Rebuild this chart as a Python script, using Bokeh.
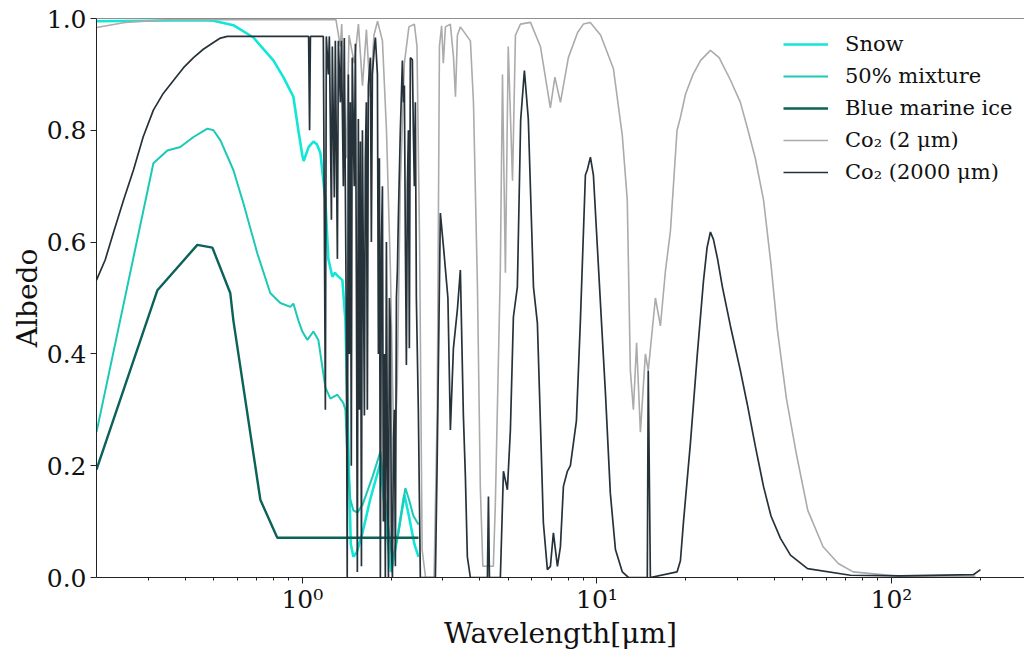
from bokeh.plotting import figure
from bokeh.models import FixedTicker, PrintfTickFormatter, Legend, LegendItem, Span
from bokeh.embed import file_html
from bokeh.resources import INLINE

# ---------------- data ----------------
snow_x = [0.2, 0.3, 0.45, 0.499, 0.583, 0.682, 0.797, 0.862, 0.932, 0.969, 1.0, 1.01, 1.05, 1.09, 1.12,
          1.151, 1.197, 1.225, 1.264, 1.29, 1.315, 1.367, 1.40, 1.43, 1.46, 1.49, 1.53, 1.60, 1.70, 1.84,
          1.93, 2.0, 2.1, 2.22, 2.3, 2.4, 2.48]
snow_y = [0.995, 0.996, 0.997, 0.996, 0.988, 0.966, 0.925, 0.895, 0.86, 0.80, 0.755, 0.745, 0.77, 0.78, 0.775,
          0.76, 0.675, 0.57, 0.538, 0.545, 0.54, 0.532, 0.46, 0.25, 0.06, 0.037, 0.045, 0.08, 0.14, 0.205,
          0.09, 0.01, 0.07, 0.148, 0.11, 0.06, 0.037]

mix_x = [0.2, 0.312, 0.348, 0.385, 0.427, 0.476, 0.499, 0.527, 0.583, 0.631, 0.703, 0.778, 0.842, 0.91, 0.932,
         0.969, 1.0, 1.04, 1.09, 1.133, 1.197, 1.245, 1.315, 1.378, 1.40, 1.42, 1.455, 1.49, 1.537, 1.60,
         1.73, 1.84, 1.958, 2.02, 2.118, 2.237, 2.30, 2.383, 2.48]
mix_y = [0.26, 0.741, 0.764, 0.77, 0.788, 0.803, 0.80, 0.782, 0.729, 0.669, 0.58, 0.509, 0.491, 0.484, 0.49,
         0.46, 0.44, 0.425, 0.44, 0.425, 0.34, 0.32, 0.327, 0.312, 0.30, 0.22, 0.14, 0.12, 0.116, 0.13,
         0.18, 0.225, 0.09, 0.03, 0.08, 0.16, 0.14, 0.11, 0.095]

marine_x = [0.2, 0.322, 0.44, 0.495, 0.569, 0.583, 0.72, 0.822, 2.48]
marine_y = [0.193, 0.514, 0.595, 0.59, 0.509, 0.46, 0.139, 0.071, 0.071]

# CO2 ice, 2 um grains: (wavelength, albedo)
co2_2um = [
    (0.2, 0.984), (0.25, 0.993), (0.35, 0.998), (1.3, 0.998), (1.346, 0.95), (1.36, 0.99), (1.41, 0.75),
    (1.44, 0.97), (1.50, 0.92), (1.55, 0.99), (1.60, 0.88), (1.65, 0.98), (1.70, 0.86), (1.75, 0.97),
    (1.80, 0.995), (1.87, 0.96), (1.93, 0.80), (1.99, 0.55), (2.05, 0.20), (2.10, 0.35), (2.15, 0.70),
    (2.22, 0.92), (2.30, 0.985), (2.40, 0.99), (2.45, 0.95), (2.50, 0.60), (2.55, 0.05), (2.62, 0.0),
    (2.80, 0.0), (2.87, 0.30), (2.92, 0.95), (2.97, 0.987), (3.01, 0.92), (3.06, 0.985), (3.18, 0.99),
    (3.26, 0.93), (3.31, 0.86), (3.36, 0.97), (3.44, 0.985), (3.72, 0.96), (3.81, 0.85), (3.93, 0.52),
    (4.02, 0.16), (4.10, 0.02), (4.45, 0.02), (4.52, 0.13), (4.70, 0.55), (4.78, 0.90), (4.89, 0.545),
    (5.0, 0.95), (5.17, 0.71), (5.29, 0.97), (5.5, 0.99), (5.95, 0.993), (6.43, 0.95), (6.95, 0.84),
    (7.2, 0.895), (7.52, 0.85), (8.0, 0.93), (8.6, 0.975), (9.0, 0.99), (9.5, 0.993), (10.3, 0.97),
    (11.38, 0.91), (12.2, 0.79), (12.68, 0.675), (12.99, 0.37), (13.3, 0.30), (13.64, 0.42),
    (14.05, 0.26), (14.61, 0.40), (14.94, 0.37), (15.8, 0.50), (16.43, 0.45), (17.1, 0.55),
    (17.77, 0.62), (18.71, 0.80), (19.21, 0.823), (20.0, 0.865), (21.2, 0.90), (22.5, 0.925),
    (24.29, 0.943), (26.0, 0.93), (28.4, 0.89), (30.7, 0.85), (32.4, 0.805), (34.5, 0.75),
    (36.8, 0.675), (39.0, 0.56), (41.0, 0.443), (44.0, 0.32), (47.6, 0.22), (52.0, 0.12),
    (58.6, 0.055), (66.0, 0.025), (74.1, 0.01), (107.0, 0.002), (192.9, 0.002),
]

# CO2 ice, 2000 um grains: (wavelength, albedo)
co2_2000um = [
    (0.2, 0.532), (0.214, 0.568), (0.228, 0.616), (0.247, 0.675), (0.267, 0.729), (0.288, 0.788),
    (0.312, 0.836), (0.337, 0.866), (0.365, 0.889), (0.395, 0.912), (0.427, 0.930), (0.461, 0.945),
    (0.499, 0.957), (0.527, 0.965), (0.556, 0.968), (1.05, 0.968), (1.058, 0.80), (1.065, 0.968),
    (1.178, 0.968), (1.197, 0.30), (1.206, 0.968), (1.225, 0.90), (1.235, 0.968), (1.255, 0.64),
    (1.264, 0.95), (1.284, 0.68), (1.294, 0.96), (1.315, 0.57), (1.325, 0.96), (1.346, 0.85),
    (1.357, 0.96), (1.378, 0.70), (1.388, 0.965), (1.41, 0.45), (1.42, 0.0), (1.433, 0.90),
    (1.444, 0.40), (1.455, 0.85), (1.466, 0.20), (1.477, 0.93), (1.50, 0.70), (1.514, 0.955),
    (1.526, 0.50), (1.537, 0.01), (1.549, 0.82), (1.562, 0.30), (1.574, 0.78), (1.587, 0.02),
    (1.599, 0.80), (1.624, 0.29), (1.636, 0.75), (1.649, 0.85), (1.662, 0.30), (1.675, 0.88),
    (1.702, 0.93), (1.715, 0.60), (1.729, 0.90), (1.756, 0.95), (1.77, 0.966), (1.798, 0.90),
    (1.812, 0.40), (1.826, 0.75), (1.84, 0.0), (1.855, 0.60), (1.87, 0.70), (1.884, 0.10),
    (1.899, 0.40), (1.913, 0.0), (1.929, 0.60), (1.944, 0.20), (1.96, 0.0), (1.975, 0.50),
    (1.99, 0.45), (2.006, 0.05), (2.022, 0.0), (2.038, 0.25), (2.054, 0.30), (2.069, 0.02),
    (2.086, 0.50), (2.102, 0.55), (2.119, 0.65), (2.151, 0.80), (2.186, 0.925), (2.203, 0.85),
    (2.22, 0.88), (2.237, 0.60), (2.255, 0.38), (2.273, 0.70), (2.291, 0.80), (2.308, 0.41),
    (2.326, 0.93), (2.363, 0.926), (2.381, 0.80), (2.40, 0.70), (2.419, 0.85), (2.438, 0.50),
    (2.476, 0.30), (2.515, 0.0), (2.829, 0.0), (2.867, 0.20), (2.941, 0.652), (3.02, 0.586),
    (3.12, 0.50), (3.181, 0.264), (3.257, 0.41), (3.361, 0.48), (3.439, 0.55), (3.521, 0.29),
    (3.577, 0.18), (3.632, 0.037), (3.719, 0.0), (4.249, 0.0), (4.283, 0.145), (4.316, 0.0),
    (4.702, 0.0), (4.816, 0.19), (4.967, 0.157), (5.085, 0.264), (5.206, 0.466), (5.37, 0.52),
    (5.51, 0.818), (5.673, 0.907), (5.85, 0.82), (6.09, 0.52), (6.28, 0.455), (6.43, 0.277),
    (6.58, 0.098), (6.79, 0.014), (6.952, 0.02), (7.117, 0.08), (7.344, 0.02), (7.518, 0.055),
    (7.697, 0.163), (7.938, 0.19), (8.128, 0.20), (8.52, 0.28), (8.79, 0.46), (9.14, 0.72),
    (9.285, 0.73), (9.505, 0.752), (9.73, 0.72), (10.4, 0.443), (10.69, 0.33), (11.11, 0.15),
    (11.56, 0.05), (12.2, 0.01), (12.8, 0.0), (14.83, 0.0), (14.94, 0.37), (15.19, 0.0),
    (18.71, 0.01), (19.21, 0.03), (19.68, 0.10), (20.77, 0.24), (21.93, 0.40), (23.0, 0.53),
    (23.66, 0.59), (24.29, 0.618), (24.87, 0.605), (25.68, 0.57), (26.67, 0.52), (28.4, 0.45),
    (30.7, 0.37), (32.4, 0.31), (34.5, 0.235), (36.78, 0.163), (39.0, 0.11), (42.0, 0.07),
    (45.41, 0.04), (51.9, 0.016), (72.58, 0.004), (107.3, 0.003), (189.7, 0.005), (200.6, 0.014),
]

series_labels = ["Snow", "50% mixture", "Blue marine ice", "Co\u2082 (2 \u03bcm)", "Co\u2082 (2000 \u03bcm)"]
x_major_ticks = [1, 10, 100]
x_tick_labels = ["10\u2070", "10\u00b9", "10\u00b2"]
x_minor_ticks = [0.3, 0.4, 0.5, 0.6, 0.7, 0.8, 0.9, 2, 3, 4, 5, 6, 7, 8, 9,
                 20, 30, 40, 50, 60, 70, 80, 90, 200]
y_ticks = [0.0, 0.2, 0.4, 0.6, 0.8, 1.0]

# ---------------- figure ----------------
FONT = "DejaVu Serif"
p = figure(width=1024, height=652, x_axis_type="log", x_range=(0.2, 283), y_range=(0, 1.0),
           output_backend="svg", toolbar_location=None,
           min_border_left=96, min_border_right=0, min_border_top=18, min_border_bottom=74,
           x_axis_label="Wavelength[\u03bcm]", y_axis_label="Albedo")
p.outline_line_color = None
p.grid.visible = False
p.background_fill_color = "white"
p.border_fill_color = "white"

for ax in (p.xaxis[0], p.yaxis[0]):
    ax.axis_line_color = "#222222"
    ax.major_tick_line_color = "#222222"
    ax.minor_tick_line_color = "#222222"
    ax.major_tick_out = 6
    ax.major_tick_in = 0
    ax.minor_tick_out = 3
    ax.minor_tick_in = 0
    ax.major_label_text_font = FONT
    ax.major_label_text_font_size = "25px"
    ax.major_label_text_color = "#111111"
    ax.axis_label_text_font = FONT
    ax.axis_label_text_font_size = "28px"
    ax.axis_label_text_font_style = "normal"
    ax.axis_label_text_color = "#111111"
    ax.axis_label_standoff = 0
    ax.major_label_standoff = 4

p.xaxis[0].major_label_standoff = 1
p.xaxis[0].ticker = FixedTicker(ticks=x_major_ticks, minor_ticks=x_minor_ticks)
p.xaxis[0].major_label_overrides = dict(zip(x_major_ticks, x_tick_labels))
p.yaxis[0].ticker = FixedTicker(ticks=y_ticks)
p.yaxis[0].formatter = PrintfTickFormatter(format="%.1f")
p.yaxis[0].minor_tick_line_color = None

p.add_layout(Span(location=1.0, dimension="width", line_color="#222222", line_width=1))

c2x = [a for a, b in co2_2um]
c2y = [b for a, b in co2_2um]
c2000x = [a for a, b in co2_2000um]
c2000y = [b for a, b in co2_2000um]

r_snow = p.line(snow_x, snow_y, line_color="#12e6d6", line_width=2.6)
r_mix = p.line(mix_x, mix_y, line_color="#1cc9b6", line_width=2.0)
r_marine = p.line(marine_x, marine_y, line_color="#0b6259", line_width=2.4)
r_c2 = p.line(c2x, c2y, line_color="#ababab", line_width=1.6)
r_c2000 = p.line(c2000x, c2000y, line_color="#26323a", line_width=1.7)

renderers = [r_snow, r_mix, r_marine, r_c2, r_c2000]
legend = Legend(items=[LegendItem(label=l, renderers=[r]) for l, r in zip(series_labels, renderers)],
                location=(687, 393), glyph_width=45, glyph_height=24, label_height=24,
                label_standoff=17, spacing=8, padding=0, margin=0,
                border_line_color=None, background_fill_alpha=0,
                label_text_font=FONT, label_text_font_size="21px", label_text_color="#111111")
p.add_layout(legend)

open("out.html", "w").write(file_html(p, INLINE))
